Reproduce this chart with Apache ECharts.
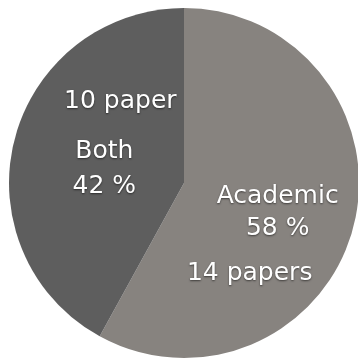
<!DOCTYPE html>
<html>
<head>
<meta charset="utf-8">
<script src="https://cdn.jsdelivr.net/npm/echarts@6/dist/echarts.min.js"></script>
<style>
  html, body { margin: 0; padding: 0; background: #ffffff; }
  #chart { width: 358px; height: 360px; }
</style>
</head>
<body>
<div id="chart"></div>
<script>
// Paper counts by category
const categories = ['Academic', 'Both'];
const shares = [58, 42];
const paperCounts = ['14 papers', '10 paper'];
const sliceColors = ['#87837f', '#5e5e5e'];

const chart = echarts.init(document.getElementById('chart'), null, { renderer: 'canvas' });

const textBase = {
  color: '#ffffff',
  fontFamily: 'DejaVu Sans',
  fontSize: 25,
  textShadowColor: 'rgba(0,0,0,0.55)',
  textShadowBlur: 2,
  textShadowOffsetY: 1
};

const richAcademic = {
  n: Object.assign({}, textBase, { lineHeight: 32 }),
  p: Object.assign({}, textBase, { lineHeight: 32 }),
  c: Object.assign({}, textBase, { lineHeight: 58, padding: [0, 56, 0, 0] })
};
const richBoth = {
  c: Object.assign({}, textBase, { lineHeight: 65, padding: [0, 0, 0, 32] }),
  n: Object.assign({}, textBase, { lineHeight: 35 }),
  p: Object.assign({}, textBase, { lineHeight: 35 })
};

const data = categories.map((name, i) => ({
  name: name,
  value: shares[i],
  itemStyle: { color: sliceColors[i] },
  label: i === 0
    ? { formatter: '{n|' + name + '}\n{p|' + shares[i] + ' %}\n{c|' + paperCounts[i] + '}', rich: richAcademic }
    : { formatter: '{c|' + paperCounts[i] + '}\n{n|' + name + '}\n{p|' + shares[i] + ' %}', rich: richBoth }
}));

chart.setOption({
  animation: false,
  series: [{
    type: 'pie',
    center: [184, 183],
    radius: [0, 175],
    startAngle: 90,
    clockwise: true,
    silent: true,
    itemStyle: { borderWidth: 0 },
    label: { show: true, position: 'inside', align: 'center' },
    labelLine: { show: false },
    labelLayout: function (params) {
      return params.dataIndex === 0 ? { dx: 6, dy: 36 } : { dx: 8, dy: -24 };
    },
    data: data
  }]
});
</script>
</body>
</html>
